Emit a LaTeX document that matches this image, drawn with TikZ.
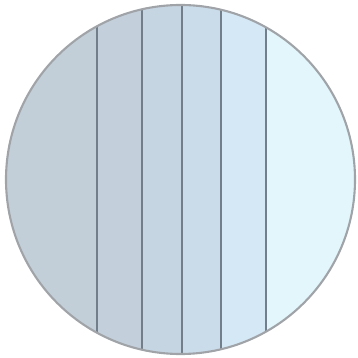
\documentclass[tikz,border=0pt]{standalone}
\usepackage{tikz}

\definecolor{stripA}{HTML}{C2CFD9}
\definecolor{stripB}{HTML}{C3D0DC}
\definecolor{stripC}{HTML}{C6D5E2}
\definecolor{stripD}{HTML}{CADCEA}
\definecolor{stripE}{HTML}{D5E8F6}
\definecolor{stripF}{HTML}{E2F6FB}
\definecolor{divline}{HTML}{727F8A}
\definecolor{rimline}{HTML}{A0A4A8}

\begin{document}
\begin{tikzpicture}[x=0.01cm, y=-0.01cm,
		divider/.style={draw=divline, line width=0.7pt},
		rim/.style={draw=rimline, line width=0.6pt}]
		\useasboundingbox (0,0) rectangle (357,358);
		% strips, clipped to the disc
		\begin{scope}
			\clip (180.5,179.5) circle (174.5);
			\foreach \xa/\xb/\c in {0/97/stripA, 97/142/stripB, 142/182/stripC,
				182/221/stripD, 221/266/stripE, 266/357/stripF}
				\fill[\c] (\xa,0) rectangle (\xb,358);
			% dividing lines
			\foreach \x in {97,142,182,221,266}
				\draw[divider] (\x,0) -- (\x,358);
		\end{scope}
		% outline
		\draw[rim] (180.5,179.5) circle (174.5);
	\end{tikzpicture}
\end{document}
